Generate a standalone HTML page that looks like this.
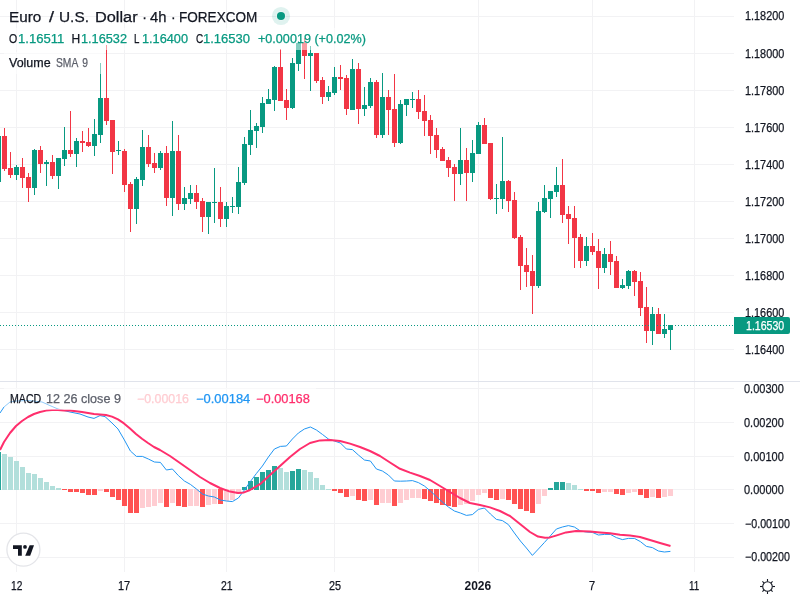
<!DOCTYPE html>
<html><head><meta charset="utf-8"><title>EURUSD</title>
<style>
html,body{margin:0;padding:0;background:#fff;}
body{width:800px;height:600px;position:relative;overflow:hidden;font-family:"Liberation Sans",sans-serif;color:#131722;}
.cv{position:absolute;left:0;top:0;}
.t{position:absolute;white-space:nowrap;font-size:12px;line-height:14px;height:14px;transform-origin:0 50%;-webkit-text-stroke:0.25px currentColor;}
.ax{letter-spacing:-0.55px;}
.ttl{font-size:14px;line-height:16px;height:16px;}
.g{color:#089981;}
.ov{position:absolute;background:rgba(255,255,255,0.5);}
.lb{position:absolute;left:734px;top:317px;width:56px;height:17px;background:#089981;border-radius:0 2px 2px 0;}
</style></head><body>
<svg class="cv" width="800" height="600" viewBox="0 0 800 600">
<g shape-rendering="crispEdges">
<rect x="16" y="0" width="1" height="572" fill="#f2f2f4"/>
<rect x="124" y="0" width="1" height="572" fill="#f2f2f4"/>
<rect x="226" y="0" width="1" height="572" fill="#f2f2f4"/>
<rect x="334" y="0" width="1" height="572" fill="#f2f2f4"/>
<rect x="478" y="0" width="1" height="572" fill="#f2f2f4"/>
<rect x="592" y="0" width="1" height="572" fill="#f2f2f4"/>
<rect x="694" y="0" width="1" height="572" fill="#f2f2f4"/>
<rect x="0" y="16" width="734" height="1" fill="#f2f2f4"/>
<rect x="0" y="53" width="734" height="1" fill="#f2f2f4"/>
<rect x="0" y="90" width="734" height="1" fill="#f2f2f4"/>
<rect x="0" y="127" width="734" height="1" fill="#f2f2f4"/>
<rect x="0" y="164" width="734" height="1" fill="#f2f2f4"/>
<rect x="0" y="201" width="734" height="1" fill="#f2f2f4"/>
<rect x="0" y="238" width="734" height="1" fill="#f2f2f4"/>
<rect x="0" y="275" width="734" height="1" fill="#f2f2f4"/>
<rect x="0" y="312" width="734" height="1" fill="#f2f2f4"/>
<rect x="0" y="349" width="734" height="1" fill="#f2f2f4"/>
<rect x="0" y="388" width="734" height="1" fill="#f2f2f4"/>
<rect x="0" y="422" width="734" height="1" fill="#f2f2f4"/>
<rect x="0" y="456" width="734" height="1" fill="#f2f2f4"/>
<rect x="0" y="489" width="734" height="1" fill="#f2f2f4"/>
<rect x="0" y="523" width="734" height="1" fill="#f2f2f4"/>
<rect x="0" y="557" width="734" height="1" fill="#f2f2f4"/>
<rect x="0" y="381" width="800" height="1" fill="#e0e3eb"/>
<rect x="-2" y="136" width="1" height="46" fill="#089981"/>
<rect x="-4" y="136" width="5" height="46" fill="#089981"/>
<rect x="4" y="128" width="1" height="43" fill="#f23645"/>
<rect x="2" y="136" width="5" height="33" fill="#f23645"/>
<rect x="10" y="152" width="1" height="26" fill="#f23645"/>
<rect x="8" y="168" width="5" height="7" fill="#f23645"/>
<rect x="16" y="165" width="1" height="15" fill="#089981"/>
<rect x="14" y="167" width="5" height="8" fill="#089981"/>
<rect x="22" y="158" width="1" height="30" fill="#f23645"/>
<rect x="20" y="167" width="5" height="11" fill="#f23645"/>
<rect x="28" y="173" width="1" height="29" fill="#f23645"/>
<rect x="26" y="177" width="5" height="11" fill="#f23645"/>
<rect x="34" y="149" width="1" height="46" fill="#089981"/>
<rect x="32" y="150" width="5" height="38" fill="#089981"/>
<rect x="40" y="146" width="1" height="27" fill="#f23645"/>
<rect x="38" y="150" width="5" height="14" fill="#f23645"/>
<rect x="46" y="160" width="1" height="26" fill="#089981"/>
<rect x="44" y="162" width="5" height="2" fill="#089981"/>
<rect x="52" y="155" width="1" height="24" fill="#f23645"/>
<rect x="50" y="162" width="5" height="14" fill="#f23645"/>
<rect x="58" y="158" width="1" height="31" fill="#089981"/>
<rect x="56" y="158" width="5" height="18" fill="#089981"/>
<rect x="64" y="127" width="1" height="39" fill="#089981"/>
<rect x="62" y="150" width="5" height="9" fill="#089981"/>
<rect x="70" y="111" width="1" height="46" fill="#f23645"/>
<rect x="68" y="150" width="5" height="4" fill="#f23645"/>
<rect x="76" y="138" width="1" height="29" fill="#089981"/>
<rect x="74" y="141" width="5" height="13" fill="#089981"/>
<rect x="82" y="131" width="1" height="21" fill="#f23645"/>
<rect x="80" y="141" width="5" height="2" fill="#f23645"/>
<rect x="88" y="128" width="1" height="19" fill="#f23645"/>
<rect x="86" y="142" width="5" height="4" fill="#f23645"/>
<rect x="94" y="119" width="1" height="37" fill="#089981"/>
<rect x="92" y="134" width="5" height="12" fill="#089981"/>
<rect x="100" y="63" width="1" height="80" fill="#089981"/>
<rect x="98" y="98" width="5" height="37" fill="#089981"/>
<rect x="106" y="45" width="1" height="80" fill="#f23645"/>
<rect x="104" y="98" width="5" height="23" fill="#f23645"/>
<rect x="112" y="120" width="1" height="54" fill="#f23645"/>
<rect x="110" y="120" width="5" height="32" fill="#f23645"/>
<rect x="118" y="141" width="1" height="14" fill="#089981"/>
<rect x="116" y="150" width="5" height="1" fill="#089981"/>
<rect x="124" y="149" width="1" height="43" fill="#f23645"/>
<rect x="122" y="151" width="5" height="34" fill="#f23645"/>
<rect x="130" y="182" width="1" height="50" fill="#f23645"/>
<rect x="128" y="184" width="5" height="25" fill="#f23645"/>
<rect x="136" y="177" width="1" height="47" fill="#089981"/>
<rect x="134" y="179" width="5" height="30" fill="#089981"/>
<rect x="142" y="130" width="1" height="56" fill="#089981"/>
<rect x="140" y="147" width="5" height="33" fill="#089981"/>
<rect x="148" y="135" width="1" height="32" fill="#f23645"/>
<rect x="146" y="147" width="5" height="17" fill="#f23645"/>
<rect x="154" y="153" width="1" height="20" fill="#f23645"/>
<rect x="152" y="163" width="5" height="5" fill="#f23645"/>
<rect x="160" y="151" width="1" height="19" fill="#089981"/>
<rect x="158" y="153" width="5" height="15" fill="#089981"/>
<rect x="166" y="146" width="1" height="60" fill="#f23645"/>
<rect x="164" y="153" width="5" height="45" fill="#f23645"/>
<rect x="172" y="121" width="1" height="95" fill="#089981"/>
<rect x="170" y="151" width="5" height="47" fill="#089981"/>
<rect x="178" y="135" width="1" height="75" fill="#f23645"/>
<rect x="176" y="151" width="5" height="53" fill="#f23645"/>
<rect x="184" y="187" width="1" height="23" fill="#089981"/>
<rect x="182" y="198" width="5" height="6" fill="#089981"/>
<rect x="190" y="185" width="1" height="19" fill="#089981"/>
<rect x="188" y="193" width="5" height="6" fill="#089981"/>
<rect x="196" y="185" width="1" height="24" fill="#f23645"/>
<rect x="194" y="193" width="5" height="9" fill="#f23645"/>
<rect x="202" y="198" width="1" height="34" fill="#f23645"/>
<rect x="200" y="201" width="5" height="16" fill="#f23645"/>
<rect x="208" y="202" width="1" height="32" fill="#089981"/>
<rect x="206" y="202" width="5" height="15" fill="#089981"/>
<rect x="214" y="168" width="1" height="55" fill="#089981"/>
<rect x="212" y="202" width="5" height="1" fill="#089981"/>
<rect x="220" y="187" width="1" height="40" fill="#f23645"/>
<rect x="218" y="202" width="5" height="17" fill="#f23645"/>
<rect x="226" y="202" width="1" height="25" fill="#089981"/>
<rect x="224" y="206" width="5" height="13" fill="#089981"/>
<rect x="232" y="197" width="1" height="16" fill="#089981"/>
<rect x="230" y="206" width="5" height="1" fill="#089981"/>
<rect x="238" y="167" width="1" height="47" fill="#089981"/>
<rect x="236" y="182" width="5" height="25" fill="#089981"/>
<rect x="244" y="137" width="1" height="48" fill="#089981"/>
<rect x="242" y="144" width="5" height="39" fill="#089981"/>
<rect x="250" y="110" width="1" height="45" fill="#089981"/>
<rect x="248" y="130" width="5" height="15" fill="#089981"/>
<rect x="256" y="123" width="1" height="25" fill="#089981"/>
<rect x="254" y="126" width="5" height="5" fill="#089981"/>
<rect x="262" y="97" width="1" height="36" fill="#089981"/>
<rect x="260" y="103" width="5" height="24" fill="#089981"/>
<rect x="268" y="89" width="1" height="15" fill="#089981"/>
<rect x="266" y="99" width="5" height="5" fill="#089981"/>
<rect x="274" y="66" width="1" height="45" fill="#089981"/>
<rect x="272" y="67" width="5" height="33" fill="#089981"/>
<rect x="280" y="49" width="1" height="52" fill="#f23645"/>
<rect x="278" y="67" width="5" height="34" fill="#f23645"/>
<rect x="286" y="89" width="1" height="31" fill="#f23645"/>
<rect x="284" y="100" width="5" height="8" fill="#f23645"/>
<rect x="292" y="58" width="1" height="51" fill="#089981"/>
<rect x="290" y="63" width="5" height="45" fill="#089981"/>
<rect x="298" y="41" width="1" height="30" fill="#089981"/>
<rect x="296" y="43" width="5" height="21" fill="#089981"/>
<rect x="304" y="38" width="1" height="41" fill="#f23645"/>
<rect x="302" y="43" width="5" height="13" fill="#f23645"/>
<rect x="310" y="46" width="1" height="45" fill="#089981"/>
<rect x="308" y="53" width="5" height="3" fill="#089981"/>
<rect x="316" y="53" width="1" height="30" fill="#f23645"/>
<rect x="314" y="53" width="5" height="28" fill="#f23645"/>
<rect x="322" y="77" width="1" height="27" fill="#f23645"/>
<rect x="320" y="80" width="5" height="17" fill="#f23645"/>
<rect x="328" y="86" width="1" height="15" fill="#089981"/>
<rect x="326" y="92" width="5" height="5" fill="#089981"/>
<rect x="334" y="67" width="1" height="28" fill="#089981"/>
<rect x="332" y="77" width="5" height="16" fill="#089981"/>
<rect x="340" y="65" width="1" height="25" fill="#f23645"/>
<rect x="338" y="77" width="5" height="2" fill="#f23645"/>
<rect x="346" y="75" width="1" height="40" fill="#f23645"/>
<rect x="344" y="78" width="5" height="31" fill="#f23645"/>
<rect x="352" y="59" width="1" height="51" fill="#089981"/>
<rect x="350" y="69" width="5" height="41" fill="#089981"/>
<rect x="358" y="63" width="1" height="61" fill="#f23645"/>
<rect x="356" y="69" width="5" height="40" fill="#f23645"/>
<rect x="364" y="87" width="1" height="29" fill="#089981"/>
<rect x="362" y="105" width="5" height="4" fill="#089981"/>
<rect x="370" y="78" width="1" height="30" fill="#089981"/>
<rect x="368" y="82" width="5" height="24" fill="#089981"/>
<rect x="376" y="80" width="1" height="58" fill="#f23645"/>
<rect x="374" y="82" width="5" height="53" fill="#f23645"/>
<rect x="382" y="73" width="1" height="65" fill="#089981"/>
<rect x="380" y="97" width="5" height="38" fill="#089981"/>
<rect x="388" y="90" width="1" height="45" fill="#f23645"/>
<rect x="386" y="97" width="5" height="13" fill="#f23645"/>
<rect x="394" y="74" width="1" height="73" fill="#f23645"/>
<rect x="392" y="109" width="5" height="34" fill="#f23645"/>
<rect x="400" y="100" width="1" height="44" fill="#089981"/>
<rect x="398" y="104" width="5" height="39" fill="#089981"/>
<rect x="406" y="99" width="1" height="17" fill="#089981"/>
<rect x="404" y="99" width="5" height="6" fill="#089981"/>
<rect x="412" y="92" width="1" height="16" fill="#089981"/>
<rect x="410" y="99" width="5" height="1" fill="#089981"/>
<rect x="418" y="90" width="1" height="29" fill="#f23645"/>
<rect x="416" y="99" width="5" height="13" fill="#f23645"/>
<rect x="424" y="95" width="1" height="41" fill="#f23645"/>
<rect x="422" y="111" width="5" height="10" fill="#f23645"/>
<rect x="430" y="115" width="1" height="39" fill="#f23645"/>
<rect x="428" y="120" width="5" height="16" fill="#f23645"/>
<rect x="436" y="128" width="1" height="30" fill="#f23645"/>
<rect x="434" y="135" width="5" height="15" fill="#f23645"/>
<rect x="442" y="147" width="1" height="14" fill="#f23645"/>
<rect x="440" y="149" width="5" height="12" fill="#f23645"/>
<rect x="448" y="157" width="1" height="20" fill="#f23645"/>
<rect x="446" y="160" width="5" height="8" fill="#f23645"/>
<rect x="454" y="164" width="1" height="37" fill="#f23645"/>
<rect x="452" y="167" width="5" height="7" fill="#f23645"/>
<rect x="460" y="128" width="1" height="57" fill="#089981"/>
<rect x="458" y="160" width="5" height="14" fill="#089981"/>
<rect x="466" y="148" width="1" height="53" fill="#f23645"/>
<rect x="464" y="160" width="5" height="13" fill="#f23645"/>
<rect x="472" y="140" width="1" height="42" fill="#089981"/>
<rect x="470" y="153" width="5" height="20" fill="#089981"/>
<rect x="478" y="122" width="1" height="32" fill="#089981"/>
<rect x="476" y="125" width="5" height="29" fill="#089981"/>
<rect x="484" y="118" width="1" height="26" fill="#f23645"/>
<rect x="482" y="125" width="5" height="19" fill="#f23645"/>
<rect x="490" y="143" width="1" height="57" fill="#f23645"/>
<rect x="488" y="143" width="5" height="56" fill="#f23645"/>
<rect x="496" y="184" width="1" height="30" fill="#089981"/>
<rect x="494" y="198" width="5" height="1" fill="#089981"/>
<rect x="502" y="137" width="1" height="72" fill="#089981"/>
<rect x="500" y="181" width="5" height="18" fill="#089981"/>
<rect x="508" y="180" width="1" height="32" fill="#f23645"/>
<rect x="506" y="181" width="5" height="20" fill="#f23645"/>
<rect x="514" y="192" width="1" height="47" fill="#f23645"/>
<rect x="512" y="200" width="5" height="38" fill="#f23645"/>
<rect x="520" y="235" width="1" height="55" fill="#f23645"/>
<rect x="518" y="237" width="5" height="29" fill="#f23645"/>
<rect x="526" y="248" width="1" height="39" fill="#f23645"/>
<rect x="524" y="265" width="5" height="7" fill="#f23645"/>
<rect x="532" y="255" width="1" height="59" fill="#f23645"/>
<rect x="530" y="271" width="5" height="15" fill="#f23645"/>
<rect x="538" y="202" width="1" height="86" fill="#089981"/>
<rect x="536" y="211" width="5" height="75" fill="#089981"/>
<rect x="544" y="185" width="1" height="28" fill="#089981"/>
<rect x="542" y="198" width="5" height="14" fill="#089981"/>
<rect x="550" y="191" width="1" height="27" fill="#089981"/>
<rect x="548" y="191" width="5" height="8" fill="#089981"/>
<rect x="556" y="167" width="1" height="30" fill="#089981"/>
<rect x="554" y="185" width="5" height="7" fill="#089981"/>
<rect x="562" y="159" width="1" height="64" fill="#f23645"/>
<rect x="560" y="185" width="5" height="30" fill="#f23645"/>
<rect x="568" y="206" width="1" height="38" fill="#f23645"/>
<rect x="566" y="214" width="5" height="5" fill="#f23645"/>
<rect x="574" y="206" width="1" height="62" fill="#f23645"/>
<rect x="572" y="218" width="5" height="20" fill="#f23645"/>
<rect x="580" y="234" width="1" height="34" fill="#f23645"/>
<rect x="578" y="237" width="5" height="24" fill="#f23645"/>
<rect x="586" y="237" width="1" height="29" fill="#089981"/>
<rect x="584" y="246" width="5" height="15" fill="#089981"/>
<rect x="592" y="233" width="1" height="22" fill="#f23645"/>
<rect x="590" y="246" width="5" height="6" fill="#f23645"/>
<rect x="598" y="239" width="1" height="50" fill="#f23645"/>
<rect x="596" y="251" width="5" height="17" fill="#f23645"/>
<rect x="604" y="248" width="1" height="25" fill="#089981"/>
<rect x="602" y="254" width="5" height="14" fill="#089981"/>
<rect x="610" y="241" width="1" height="34" fill="#f23645"/>
<rect x="608" y="254" width="5" height="8" fill="#f23645"/>
<rect x="616" y="256" width="1" height="32" fill="#f23645"/>
<rect x="614" y="261" width="5" height="27" fill="#f23645"/>
<rect x="622" y="279" width="1" height="10" fill="#089981"/>
<rect x="620" y="285" width="5" height="3" fill="#089981"/>
<rect x="628" y="270" width="1" height="19" fill="#089981"/>
<rect x="626" y="271" width="5" height="15" fill="#089981"/>
<rect x="634" y="270" width="1" height="26" fill="#f23645"/>
<rect x="632" y="271" width="5" height="11" fill="#f23645"/>
<rect x="640" y="272" width="1" height="44" fill="#f23645"/>
<rect x="638" y="281" width="5" height="27" fill="#f23645"/>
<rect x="646" y="287" width="1" height="56" fill="#f23645"/>
<rect x="644" y="307" width="5" height="24" fill="#f23645"/>
<rect x="652" y="307" width="1" height="38" fill="#089981"/>
<rect x="650" y="314" width="5" height="17" fill="#089981"/>
<rect x="658" y="308" width="1" height="26" fill="#f23645"/>
<rect x="656" y="314" width="5" height="20" fill="#f23645"/>
<rect x="664" y="314" width="1" height="24" fill="#089981"/>
<rect x="662" y="329" width="5" height="5" fill="#089981"/>
<rect x="670" y="325" width="1" height="25" fill="#089981"/>
<rect x="668" y="325" width="5" height="5" fill="#089981"/>
<rect x="-4" y="452" width="5" height="38" fill="#26a69a"/>
<rect x="2" y="454" width="5" height="36" fill="#b2dfdb"/>
<rect x="8" y="457" width="5" height="33" fill="#b2dfdb"/>
<rect x="14" y="461" width="5" height="29" fill="#b2dfdb"/>
<rect x="20" y="467" width="5" height="23" fill="#b2dfdb"/>
<rect x="26" y="473" width="5" height="17" fill="#b2dfdb"/>
<rect x="32" y="474" width="5" height="16" fill="#b2dfdb"/>
<rect x="38" y="478" width="5" height="12" fill="#b2dfdb"/>
<rect x="44" y="482" width="5" height="8" fill="#b2dfdb"/>
<rect x="50" y="486" width="5" height="4" fill="#b2dfdb"/>
<rect x="56" y="488" width="5" height="2" fill="#b2dfdb"/>
<rect x="62" y="489" width="5" height="1" fill="#ff5252"/>
<rect x="68" y="489" width="5" height="3" fill="#ff5252"/>
<rect x="74" y="489" width="5" height="3" fill="#ff5252"/>
<rect x="80" y="489" width="5" height="4" fill="#ff5252"/>
<rect x="86" y="489" width="5" height="6" fill="#ff5252"/>
<rect x="92" y="489" width="5" height="6" fill="#ff5252"/>
<rect x="98" y="489" width="5" height="2" fill="#ffcdd2"/>
<rect x="104" y="489" width="5" height="3" fill="#ff5252"/>
<rect x="110" y="489" width="5" height="8" fill="#ff5252"/>
<rect x="116" y="489" width="5" height="11" fill="#ff5252"/>
<rect x="122" y="489" width="5" height="17" fill="#ff5252"/>
<rect x="128" y="489" width="5" height="24" fill="#ff5252"/>
<rect x="134" y="489" width="5" height="24" fill="#ff5252"/>
<rect x="140" y="489" width="5" height="19" fill="#ffcdd2"/>
<rect x="146" y="489" width="5" height="18" fill="#ffcdd2"/>
<rect x="152" y="489" width="5" height="17" fill="#ffcdd2"/>
<rect x="158" y="489" width="5" height="14" fill="#ffcdd2"/>
<rect x="164" y="489" width="5" height="18" fill="#ff5252"/>
<rect x="170" y="489" width="5" height="14" fill="#ffcdd2"/>
<rect x="176" y="489" width="5" height="17" fill="#ff5252"/>
<rect x="182" y="489" width="5" height="18" fill="#ff5252"/>
<rect x="188" y="489" width="5" height="17" fill="#ffcdd2"/>
<rect x="194" y="489" width="5" height="17" fill="#ffcdd2"/>
<rect x="200" y="489" width="5" height="18" fill="#ff5252"/>
<rect x="206" y="489" width="5" height="16" fill="#ffcdd2"/>
<rect x="212" y="489" width="5" height="15" fill="#ffcdd2"/>
<rect x="218" y="489" width="5" height="15" fill="#ff5252"/>
<rect x="224" y="489" width="5" height="12" fill="#ffcdd2"/>
<rect x="230" y="489" width="5" height="11" fill="#ffcdd2"/>
<rect x="236" y="489" width="5" height="5" fill="#ffcdd2"/>
<rect x="242" y="487" width="5" height="3" fill="#26a69a"/>
<rect x="248" y="481" width="5" height="9" fill="#26a69a"/>
<rect x="254" y="477" width="5" height="13" fill="#26a69a"/>
<rect x="260" y="472" width="5" height="18" fill="#26a69a"/>
<rect x="266" y="470" width="5" height="20" fill="#26a69a"/>
<rect x="272" y="466" width="5" height="24" fill="#26a69a"/>
<rect x="278" y="468" width="5" height="22" fill="#b2dfdb"/>
<rect x="284" y="472" width="5" height="18" fill="#b2dfdb"/>
<rect x="290" y="471" width="5" height="19" fill="#26a69a"/>
<rect x="296" y="469" width="5" height="21" fill="#26a69a"/>
<rect x="302" y="470" width="5" height="20" fill="#b2dfdb"/>
<rect x="308" y="472" width="5" height="18" fill="#b2dfdb"/>
<rect x="314" y="478" width="5" height="12" fill="#b2dfdb"/>
<rect x="320" y="485" width="5" height="5" fill="#b2dfdb"/>
<rect x="326" y="489" width="5" height="1" fill="#b2dfdb"/>
<rect x="332" y="489" width="5" height="2" fill="#ff5252"/>
<rect x="338" y="489" width="5" height="4" fill="#ff5252"/>
<rect x="344" y="489" width="5" height="8" fill="#ff5252"/>
<rect x="350" y="489" width="5" height="7" fill="#ffcdd2"/>
<rect x="356" y="489" width="5" height="11" fill="#ff5252"/>
<rect x="362" y="489" width="5" height="12" fill="#ff5252"/>
<rect x="368" y="489" width="5" height="11" fill="#ffcdd2"/>
<rect x="374" y="489" width="5" height="16" fill="#ff5252"/>
<rect x="380" y="489" width="5" height="14" fill="#ffcdd2"/>
<rect x="386" y="489" width="5" height="14" fill="#ffcdd2"/>
<rect x="392" y="489" width="5" height="17" fill="#ff5252"/>
<rect x="398" y="489" width="5" height="14" fill="#ffcdd2"/>
<rect x="404" y="489" width="5" height="11" fill="#ffcdd2"/>
<rect x="410" y="489" width="5" height="9" fill="#ffcdd2"/>
<rect x="416" y="489" width="5" height="9" fill="#ffcdd2"/>
<rect x="422" y="489" width="5" height="10" fill="#ff5252"/>
<rect x="428" y="489" width="5" height="12" fill="#ff5252"/>
<rect x="434" y="489" width="5" height="14" fill="#ff5252"/>
<rect x="440" y="489" width="5" height="16" fill="#ff5252"/>
<rect x="446" y="489" width="5" height="17" fill="#ff5252"/>
<rect x="452" y="489" width="5" height="18" fill="#ff5252"/>
<rect x="458" y="489" width="5" height="16" fill="#ffcdd2"/>
<rect x="464" y="489" width="5" height="15" fill="#ffcdd2"/>
<rect x="470" y="489" width="5" height="12" fill="#ffcdd2"/>
<rect x="476" y="489" width="5" height="6" fill="#ffcdd2"/>
<rect x="482" y="489" width="5" height="4" fill="#ffcdd2"/>
<rect x="488" y="489" width="5" height="9" fill="#ff5252"/>
<rect x="494" y="489" width="5" height="11" fill="#ff5252"/>
<rect x="500" y="489" width="5" height="10" fill="#ffcdd2"/>
<rect x="506" y="489" width="5" height="11" fill="#ff5252"/>
<rect x="512" y="489" width="5" height="15" fill="#ff5252"/>
<rect x="518" y="489" width="5" height="20" fill="#ff5252"/>
<rect x="524" y="489" width="5" height="22" fill="#ff5252"/>
<rect x="530" y="489" width="5" height="24" fill="#ff5252"/>
<rect x="536" y="489" width="5" height="15" fill="#ffcdd2"/>
<rect x="542" y="489" width="5" height="7" fill="#ffcdd2"/>
<rect x="548" y="488" width="5" height="2" fill="#26a69a"/>
<rect x="554" y="482" width="5" height="8" fill="#26a69a"/>
<rect x="560" y="482" width="5" height="8" fill="#26a69a"/>
<rect x="566" y="483" width="5" height="7" fill="#b2dfdb"/>
<rect x="572" y="485" width="5" height="5" fill="#b2dfdb"/>
<rect x="578" y="489" width="5" height="1" fill="#b2dfdb"/>
<rect x="584" y="489" width="5" height="2" fill="#ff5252"/>
<rect x="590" y="489" width="5" height="2" fill="#ff5252"/>
<rect x="596" y="489" width="5" height="4" fill="#ff5252"/>
<rect x="602" y="489" width="5" height="3" fill="#ffcdd2"/>
<rect x="608" y="489" width="5" height="3" fill="#ffcdd2"/>
<rect x="614" y="489" width="5" height="5" fill="#ff5252"/>
<rect x="620" y="489" width="5" height="6" fill="#ff5252"/>
<rect x="626" y="489" width="5" height="4" fill="#ffcdd2"/>
<rect x="632" y="489" width="5" height="3" fill="#ffcdd2"/>
<rect x="638" y="489" width="5" height="6" fill="#ff5252"/>
<rect x="644" y="489" width="5" height="9" fill="#ff5252"/>
<rect x="650" y="489" width="5" height="8" fill="#ffcdd2"/>
<rect x="656" y="489" width="5" height="9" fill="#ff5252"/>
<rect x="662" y="489" width="5" height="8" fill="#ffcdd2"/>
<rect x="668" y="489" width="5" height="7" fill="#ffcdd2"/>
</g>
<line x1="0" y1="325.5" x2="734" y2="325.5" stroke="#089981" stroke-width="1" stroke-dasharray="1 2" shape-rendering="crispEdges"/>
<path d="M0.0,413.0 L4.0,407.0 L10.0,402.0 L16.0,401.0 L28.0,400.5 L42.0,402.0 L50.0,405.6 L58.0,409.0 L70.0,412.0 L80.0,414.0 L88.0,417.0 L94.0,418.4 L100.0,415.6 L105.0,416.6 L112.0,423.0 L118.0,429.0 L124.4,440.0 L130.4,451.0 L136.4,456.4 L142.4,456.4 L148.4,459.0 L154.4,462.0 L160.4,462.4 L166.4,470.0 L172.4,469.0 L178.4,475.6 L184.4,481.0 L190.4,484.4 L196.4,489.0 L202.4,494.0 L208.4,496.0 L214.4,497.0 L220.4,500.0 L226.4,501.0 L232.4,501.6 L238.4,498.0 L244.4,490.0 L250.4,481.5 L256.4,473.5 L262.4,466.0 L268.4,457.0 L274.4,449.0 L280.4,446.4 L286.4,446.0 L292.4,439.0 L298.4,433.0 L304.4,429.0 L310.4,427.0 L316.4,430.0 L322.4,434.4 L328.4,439.0 L334.4,441.0 L340.4,443.0 L346.4,449.0 L352.4,449.6 L358.4,455.0 L364.4,460.0 L370.4,461.0 L376.4,469.0 L382.4,471.0 L388.4,475.0 L394.4,481.0 L400.4,481.2 L406.4,481.0 L412.4,480.6 L418.4,482.6 L424.4,486.0 L430.4,491.0 L436.4,496.6 L442.4,502.0 L448.4,507.0 L454.4,511.0 L460.4,513.0 L466.4,515.4 L472.4,514.6 L478.4,509.4 L484.4,508.0 L490.4,514.0 L496.4,519.4 L502.4,520.6 L508.4,524.6 L514.4,533.0 L520.4,541.0 L526.4,548.0 L532.4,555.4 L538.4,549.0 L544.4,542.5 L550.4,535.8 L556.4,529.0 L562.4,527.0 L568.4,525.6 L574.4,527.0 L580.4,531.0 L586.4,532.0 L592.4,532.4 L598.4,535.0 L604.4,534.4 L610.4,534.4 L616.4,537.6 L622.4,539.6 L628.4,538.4 L634.4,538.4 L640.4,541.6 L646.4,546.4 L652.4,547.6 L658.4,551.0 L664.4,552.0 L670.4,551.4" fill="none" stroke="#2196f3" stroke-width="1" stroke-linejoin="round"/>
<path d="M0.0,450.0 L4.0,442.0 L10.0,433.0 L16.0,426.0 L22.0,421.0 L28.0,417.0 L34.0,414.0 L40.0,412.0 L46.0,410.6 L52.0,410.0 L58.0,410.0 L64.0,410.4 L70.0,410.6 L76.0,411.2 L82.0,412.0 L88.0,413.0 L94.0,414.0 L100.0,414.4 L106.0,415.0 L112.0,416.6 L118.0,419.4 L124.0,423.4 L130.0,428.6 L136.0,434.0 L142.0,438.8 L148.0,443.0 L154.0,447.0 L160.0,450.0 L170.0,456.0 L180.0,463.0 L190.0,470.0 L200.0,477.0 L210.0,483.0 L220.0,488.0 L230.0,491.6 L238.0,493.0 L244.0,492.4 L250.0,490.0 L260.0,484.2 L270.0,475.0 L280.0,466.0 L290.0,457.0 L300.0,449.0 L310.0,443.0 L320.0,440.4 L330.0,440.0 L340.0,441.0 L350.0,443.6 L360.0,447.0 L370.0,451.0 L380.0,456.0 L390.0,462.5 L400.0,468.8 L410.0,472.6 L420.0,476.0 L430.0,480.0 L440.0,486.0 L450.0,492.0 L460.0,498.0 L470.0,503.0 L480.0,505.0 L490.0,507.4 L500.0,511.0 L510.0,516.0 L520.0,524.0 L530.0,532.0 L538.0,536.6 L545.0,537.8 L550.0,537.4 L556.0,535.6 L566.0,532.4 L576.0,531.0 L590.0,531.4 L600.0,532.4 L610.0,533.2 L620.0,534.8 L630.0,535.6 L640.0,537.0 L650.0,540.0 L660.0,543.0 L670.5,546.0" fill="none" stroke="#ff2e6c" stroke-width="2" stroke-linejoin="round" stroke-linecap="butt"/>
<circle cx="281" cy="16" r="9.1" fill="#089981" fill-opacity="0.13"/><circle cx="281" cy="16" r="5" fill="#fff" fill-opacity="0.35"/><circle cx="281" cy="16" r="4.05" fill="#089981"/>
<circle cx="23.4" cy="549.7" r="16.5" fill="#fff" stroke="#e4e5e9" stroke-width="1.3"/>
<g fill="#131722"><path d="M13,545.2H21.8V555.8H18V548.9H13Z"/><circle cx="25" cy="546.9" r="1.9"/><path d="M29.6,545.2H34L30.2,555.8H25.2Z"/></g>
<g transform="translate(767.5,586.5)" fill="none" stroke="#131722" stroke-width="1.1"><circle r="4.8"/><line x1="0.00" y1="-5.00" x2="0.00" y2="-7.50" stroke-width="1.1"/><line x1="3.54" y1="-3.54" x2="5.09" y2="-5.09" stroke-width="1.1"/><line x1="5.00" y1="-0.00" x2="7.50" y2="-0.00" stroke-width="1.1"/><line x1="3.54" y1="3.54" x2="5.09" y2="5.09" stroke-width="1.1"/><line x1="0.00" y1="5.00" x2="0.00" y2="7.50" stroke-width="1.1"/><line x1="-3.54" y1="3.54" x2="-5.09" y2="5.09" stroke-width="1.1"/><line x1="-5.00" y1="0.00" x2="-7.50" y2="0.00" stroke-width="1.1"/><line x1="-3.54" y1="-3.54" x2="-5.09" y2="-5.09" stroke-width="1.1"/></g>
</svg>
<div class="ov" style="left:4px;top:28px;width:368px;height:22px"></div>
<div class="ov" style="left:4px;top:52px;width:100px;height:22px"></div>
<div class="ov" style="left:4px;top:388px;width:312px;height:22px"></div>
<span class="t" id="title" style="word-spacing:0px;left:8.96px;top:8.87px;font-size:14px;line-height:16px;color:#131722;letter-spacing:0.000px;transform:scaleX(1.089);">Euro</span>
<span class="t" id="tsl" style="word-spacing:0px;left:49.00px;top:8.87px;font-size:14px;line-height:16px;color:#131722;letter-spacing:0.000px;transform:scaleX(1.297);">/</span>
<span class="t" id="tus" style="word-spacing:0px;left:59.20px;top:8.87px;font-size:14px;line-height:16px;color:#131722;letter-spacing:0.000px;transform:scaleX(1.099);">U.S.</span>
<span class="t" id="tdo" style="word-spacing:0px;left:94.96px;top:8.87px;font-size:14px;line-height:16px;color:#131722;letter-spacing:0.000px;transform:scaleX(1.165);">Dollar</span>
<span class="t" id="td1" style="word-spacing:0px;left:142.20px;top:8.87px;font-size:14px;line-height:16px;color:#131722;letter-spacing:0.000px;">·</span>
<span class="t" id="t4h" style="word-spacing:0px;left:150.00px;top:8.87px;font-size:14px;line-height:16px;color:#131722;letter-spacing:0.000px;transform:scaleX(1.057);">4h</span>
<span class="t" id="td2" style="word-spacing:0px;left:171.12px;top:8.87px;font-size:14px;line-height:16px;color:#131722;letter-spacing:0.000px;">·</span>
<span class="t" id="tfx" style="word-spacing:0px;left:179.20px;top:8.87px;font-size:14px;line-height:16px;color:#131722;letter-spacing:0.000px;transform:scaleX(0.968);">FOREXCOM</span>
<span class="t" id="O" style="word-spacing:0px;left:8.50px;top:31.93px;font-size:12px;line-height:14px;color:#131722;letter-spacing:0.000px;transform:scaleX(0.877);">O</span>
<span class="t" id="Ov" style="word-spacing:0px;left:18.20px;top:31.93px;font-size:12px;line-height:14px;color:#089981;letter-spacing:0.000px;transform:scaleX(1.091);">1.16511</span>
<span class="t" id="H" style="word-spacing:0px;left:71.60px;top:31.93px;font-size:12px;line-height:14px;color:#131722;letter-spacing:0.000px;">H</span>
<span class="t" id="Hv" style="word-spacing:0px;left:81.20px;top:31.93px;font-size:12px;line-height:14px;color:#089981;letter-spacing:0.000px;transform:scaleX(1.061);">1.16532</span>
<span class="t" id="L" style="word-spacing:0px;left:133.92px;top:31.93px;font-size:12px;line-height:14px;color:#131722;letter-spacing:0.000px;transform:scaleX(0.806);">L</span>
<span class="t" id="Lv" style="word-spacing:0px;left:142.20px;top:31.93px;font-size:12px;line-height:14px;color:#089981;letter-spacing:0.000px;transform:scaleX(1.061);">1.16400</span>
<span class="t" id="C" style="word-spacing:0px;left:195.60px;top:31.93px;font-size:12px;line-height:14px;color:#131722;letter-spacing:0.000px;transform:scaleX(0.830);">C</span>
<span class="t" id="Cv" style="word-spacing:0px;left:203.44px;top:31.93px;font-size:12px;line-height:14px;color:#089981;letter-spacing:0.000px;transform:scaleX(1.084);">1.16530</span>
<span class="t" id="chg" style="word-spacing:0px;left:258.00px;top:31.93px;font-size:12px;line-height:14px;color:#089981;letter-spacing:0.000px;transform:scaleX(1.050);">+0.00019 (+0.02%)</span>
<span class="t" id="vol" style="word-spacing:0px;left:9.40px;top:55.53px;font-size:12px;line-height:14px;color:#131722;letter-spacing:0.000px;transform:scaleX(1.039);">Volume</span>
<span class="t" id="sma" style="word-spacing:2px;left:55.65px;top:55.53px;font-size:12px;line-height:14px;color:#5d606b;letter-spacing:0.000px;transform:scaleX(0.856);">SMA 9</span>
<span class="t" id="macd" style="word-spacing:0px;left:9.60px;top:391.63px;font-size:12px;line-height:14px;color:#131722;letter-spacing:0.000px;transform:scaleX(0.884);">MACD</span>
<span class="t" id="macdp" style="word-spacing:0px;left:46.20px;top:391.63px;font-size:12px;line-height:14px;color:#5d606b;letter-spacing:0.000px;transform:scaleX(1.049);">12 26 close 9</span>
<span class="t" id="m1" style="word-spacing:0px;left:137.00px;top:391.63px;font-size:12px;line-height:14px;color:#ffcdd2;letter-spacing:0.000px;transform:scaleX(1.030);">−0.00016</span>
<span class="t" id="m2" style="word-spacing:0px;left:195.75px;top:391.63px;font-size:12px;line-height:14px;color:#2196f3;letter-spacing:0.000px;transform:scaleX(1.077);">−0.00184</span>
<span class="t" id="m3" style="word-spacing:0px;left:255.75px;top:391.63px;font-size:12px;line-height:14px;color:#ff2e6c;letter-spacing:0.000px;transform:scaleX(1.069);">−0.00168</span>
<span class="t" id="p0" style="word-spacing:0px;left:744.70px;top:9.03px;font-size:12px;line-height:14px;color:#131722;letter-spacing:0.000px;transform:scaleX(0.905);">1.18200</span>
<span class="t" id="p1" style="word-spacing:0px;left:744.70px;top:47.03px;font-size:12px;line-height:14px;color:#131722;letter-spacing:0.000px;transform:scaleX(0.905);">1.18000</span>
<span class="t" id="p2" style="word-spacing:0px;left:744.70px;top:84.03px;font-size:12px;line-height:14px;color:#131722;letter-spacing:0.000px;transform:scaleX(0.905);">1.17800</span>
<span class="t" id="p3" style="word-spacing:0px;left:744.70px;top:121.03px;font-size:12px;line-height:14px;color:#131722;letter-spacing:0.000px;transform:scaleX(0.905);">1.17600</span>
<span class="t" id="p4" style="word-spacing:0px;left:744.70px;top:158.03px;font-size:12px;line-height:14px;color:#131722;letter-spacing:0.000px;transform:scaleX(0.905);">1.17400</span>
<span class="t" id="p5" style="word-spacing:0px;left:744.70px;top:195.03px;font-size:12px;line-height:14px;color:#131722;letter-spacing:0.000px;transform:scaleX(0.905);">1.17200</span>
<span class="t" id="p6" style="word-spacing:0px;left:744.70px;top:232.03px;font-size:12px;line-height:14px;color:#131722;letter-spacing:0.000px;transform:scaleX(0.905);">1.17000</span>
<span class="t" id="p7" style="word-spacing:0px;left:744.70px;top:269.03px;font-size:12px;line-height:14px;color:#131722;letter-spacing:0.000px;transform:scaleX(0.905);">1.16800</span>
<span class="t" id="p8" style="word-spacing:0px;left:744.70px;top:306.03px;font-size:12px;line-height:14px;color:#131722;letter-spacing:0.000px;transform:scaleX(0.905);">1.16600</span>
<span class="t" id="p9" style="word-spacing:0px;left:744.70px;top:343.03px;font-size:12px;line-height:14px;color:#131722;letter-spacing:0.000px;transform:scaleX(0.905);">1.16400</span>
<span class="t" id="q388" style="word-spacing:0px;left:744.20px;top:382.03px;font-size:12px;line-height:14px;color:#131722;letter-spacing:0.000px;transform:scaleX(0.917);">0.00300</span>
<span class="t" id="q422" style="word-spacing:0px;left:744.20px;top:416.03px;font-size:12px;line-height:14px;color:#131722;letter-spacing:0.000px;transform:scaleX(0.917);">0.00200</span>
<span class="t" id="q456" style="word-spacing:0px;left:744.20px;top:450.03px;font-size:12px;line-height:14px;color:#131722;letter-spacing:0.000px;transform:scaleX(0.917);">0.00100</span>
<span class="t" id="q489" style="word-spacing:0px;left:744.20px;top:483.03px;font-size:12px;line-height:14px;color:#131722;letter-spacing:0.000px;transform:scaleX(0.917);">0.00000</span>
<span class="t" id="q523" style="word-spacing:0px;left:744.80px;top:517.03px;font-size:12px;line-height:14px;color:#131722;letter-spacing:0.000px;transform:scaleX(0.891);">−0.00100</span>
<span class="t" id="q557" style="word-spacing:0px;left:744.80px;top:550.43px;font-size:12px;line-height:14px;color:#131722;letter-spacing:0.000px;transform:scaleX(0.891);">−0.00200</span>
<div class="lb"></div>
<span class="t" id="last" style="word-spacing:0px;left:745.50px;top:318.83px;font-size:12px;line-height:14px;color:#fff;letter-spacing:0.000px;transform:scaleX(0.882);">1.16530</span>
<span class="t" id="t12" style="word-spacing:0px;left:10.95px;top:579.03px;font-size:12px;line-height:14px;color:#131722;letter-spacing:0.000px;transform:scaleX(0.850);">12</span>
<span class="t" id="t17" style="word-spacing:0px;left:117.92px;top:579.03px;font-size:12px;line-height:14px;color:#131722;letter-spacing:0.000px;transform:scaleX(0.908);">17</span>
<span class="t" id="t21" style="word-spacing:0px;left:220.90px;top:579.03px;font-size:12px;line-height:14px;color:#131722;letter-spacing:0.000px;transform:scaleX(0.869);">21</span>
<span class="t" id="t25" style="word-spacing:0px;left:328.65px;top:579.03px;font-size:12px;line-height:14px;color:#131722;letter-spacing:0.000px;transform:scaleX(0.902);">25</span>
<span class="t" id="t7" style="word-spacing:0px;left:588.88px;top:579.03px;font-size:12px;line-height:14px;color:#131722;letter-spacing:0.000px;transform:scaleX(0.909);">7</span>
<span class="t" id="t11" style="word-spacing:0px;left:689.10px;top:579.03px;font-size:12px;line-height:14px;color:#131722;letter-spacing:0.000px;transform:scaleX(0.817);">11</span>
<span class="t" id="t2026" style="word-spacing:0px;left:464.50px;top:579.03px;font-size:12px;line-height:14px;color:#131722;letter-spacing:0.000px;font-weight:bold;-webkit-text-stroke:0;">2026</span>
</body></html>
